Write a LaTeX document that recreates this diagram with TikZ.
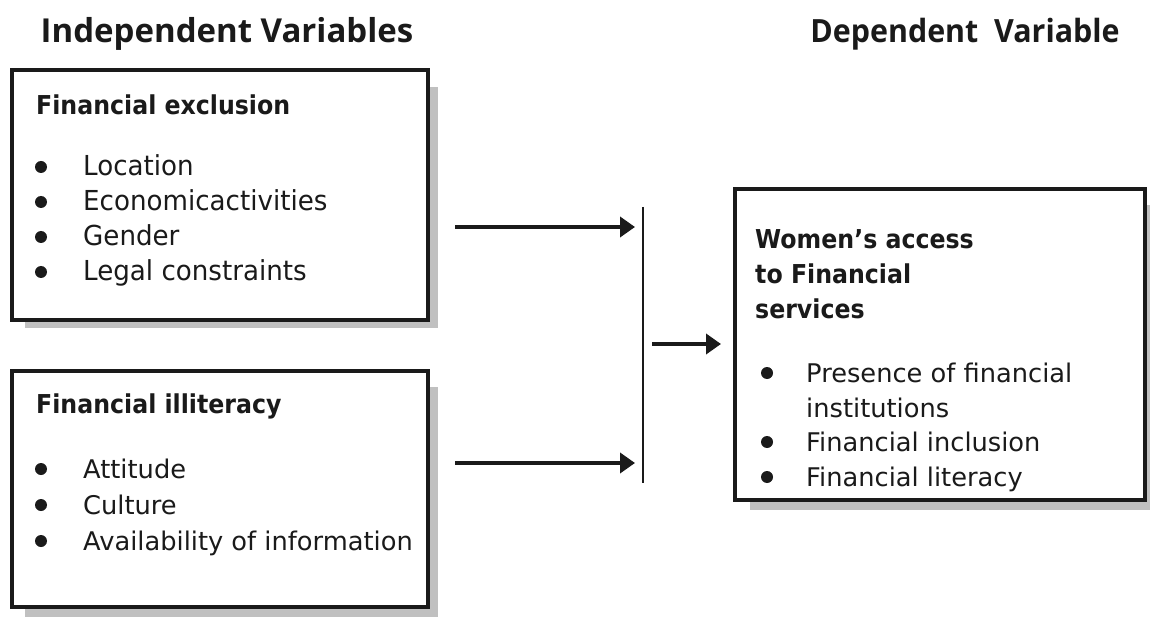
\documentclass[tikz,border=0pt]{standalone}
\usepackage{fontspec}
\usetikzlibrary{arrows.meta}
\newfontfamily\hdfont[FakeStretch=1.0]{Open Sans}
\newfontfamily\hdbfont[FakeStretch=0.95]{Open Sans}
\newfontfamily\dvfont{DejaVu Sans}
\newfontfamily\dvafont[FakeStretch=0.95]{DejaVu Sans}
\newfontfamily\dvcfont[FakeStretch=0.91]{DejaVu Sans}
\definecolor{shadowgray}{HTML}{C0C0C0}
\definecolor{ink}{HTML}{1A1A1A}
\tikzset{
  boxframe/.style={draw=ink, line width=4pt, fill=white, inner sep=0pt},
  shadowfill/.style={fill=shadowgray, draw=none},
  header/.style={anchor=base, inner sep=0pt, text=ink, font=\hdfont\bfseries\fontsize{33}{38}\selectfont},
  headertwo/.style={anchor=base, inner sep=0pt, text=ink, font=\hdbfont\bfseries\fontsize{32}{38}\selectfont},
  boxtitle/.style={anchor=base west, inner sep=0pt, text=ink, font=\dvcfont\bfseries\fontsize{26}{30}\selectfont},
  itemone/.style={anchor=base west, inner sep=0pt, text=ink, font=\dvafont\fontsize{27.5}{30}\selectfont},
  itemtwo/.style={anchor=base west, inner sep=0pt, text=ink, font=\dvfont\fontsize{25.7}{30}\selectfont},
  bulletdot/.style={circle, fill=ink, inner sep=0pt, minimum size=12pt},
  arrowline/.style={draw=ink, line width=4pt, -{Triangle[length=15pt,width=20pt]}},
  barline/.style={draw=ink, line width=2pt},
}
\begin{document}
\begin{tikzpicture}[x=1pt,y=-1pt]
\useasboundingbox (0,0) rectangle (1150,617);
% headers
\node[header] (h1) at (227,43) {Independent Variables};
\node[headertwo] (h2) at (965,43) {Dependent\ \ Variable};
% shadows
\fill[shadowfill] (25,87) rectangle (438,328);
\fill[shadowfill] (25,387) rectangle (438,625);
\fill[shadowfill] (750,205) rectangle (1156,510);
% boxes
\node[boxframe, minimum width=416pt, minimum height=250pt] (b1) at (220,195) {};
\node[boxframe, minimum width=416pt, minimum height=236pt] (b2) at (220,489) {};
\node[boxframe, minimum width=410pt, minimum height=311pt] (b3) at (940,344.5) {};
% box 1
\node[boxtitle] (t1) at (36,115) {Financial exclusion};
\node[bulletdot] (d11) at (41,167) {};
\node[bulletdot] (d12) at (41,202) {};
\node[bulletdot] (d13) at (41,237) {};
\node[bulletdot] (d14) at (41,272) {};
\node[itemone] (i11) at (83,176) {Location};
\node[itemone] (i12) at (83,211) {Economicactivities};
\node[itemone] (i13) at (83,246) {Gender};
\node[itemone] (i14) at (83,281) {Legal constraints};
% box 2
\node[boxtitle] (t2) at (36,413) {Financial illiteracy};
\node[bulletdot] (d21) at (41,469) {};
\node[bulletdot] (d22) at (41,505) {};
\node[bulletdot] (d23) at (41,541) {};
\node[itemtwo] (i21) at (83,478) {Attitude};
\node[itemtwo] (i22) at (83,514) {Culture};
\node[itemtwo] (i23) at (83,550) {Availability of information};
% box 3
\node[boxtitle] (t31) at (755,249) {Women’s access};
\node[boxtitle] (t32) at (755,284) {to Financial};
\node[boxtitle] (t33) at (755,319) {services};
\node[bulletdot] (d31) at (767,373) {};
\node[bulletdot] (d32) at (767,442) {};
\node[bulletdot] (d33) at (767,477) {};
\node[itemtwo] (i31) at (806,382) {Presence of financial};
\node[itemtwo] (i32) at (806,417) {institutions};
\node[itemtwo] (i33) at (806,451) {Financial inclusion};
\node[itemtwo] (i34) at (806,486) {Financial literacy};
% connectors
\coordinate (a1s) at (455,227);
\coordinate (a1e) at (635,227);
\coordinate (a2s) at (455,463);
\coordinate (a2e) at (635,463);
\coordinate (vt) at (643,207);
\coordinate (vb) at (643,483);
\coordinate (a3s) at (652,344);
\coordinate (a3e) at (721,344);
\draw[arrowline] (a1s) -- (a1e);
\draw[arrowline] (a2s) -- (a2e);
\draw[barline] (vt) -- (vb);
\draw[arrowline] (a3s) -- (a3e);
\end{tikzpicture}
\end{document}
